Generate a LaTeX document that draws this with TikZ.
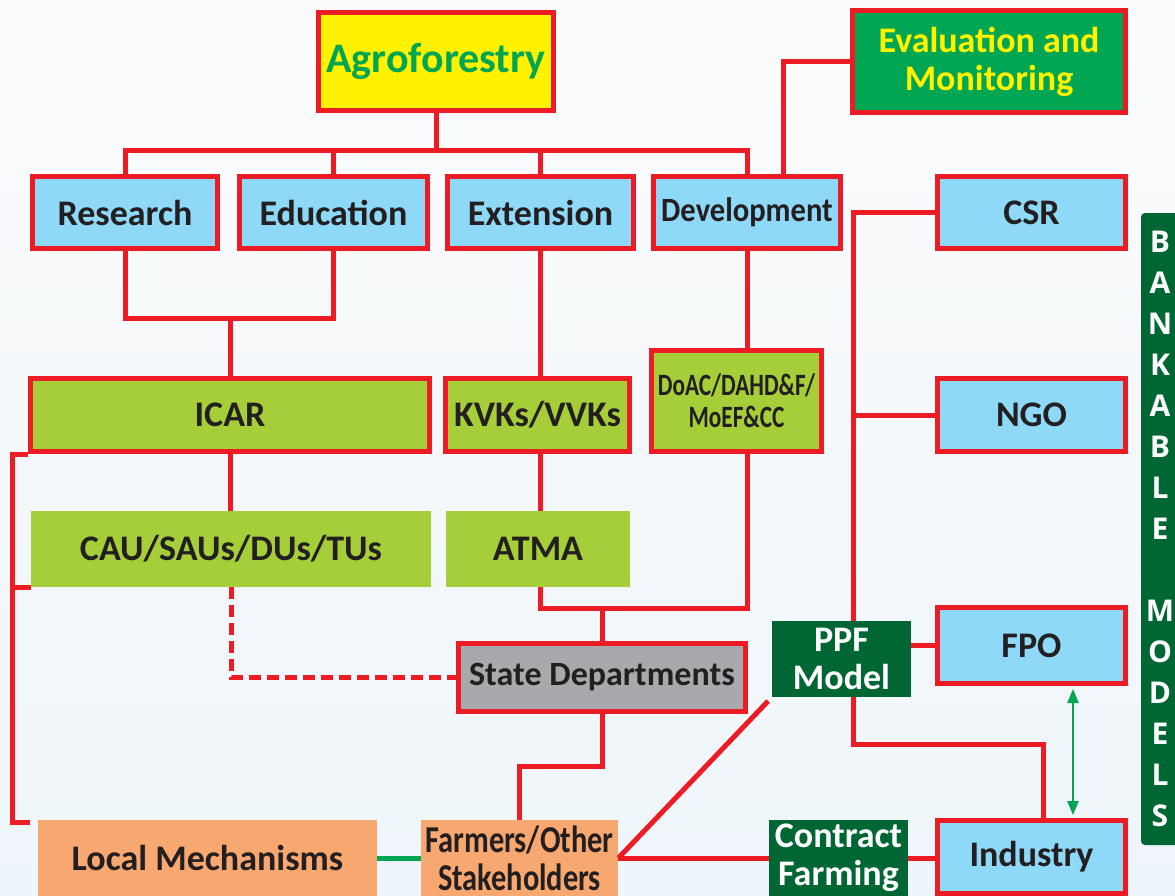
\documentclass[tikz,border=0pt]{standalone}
\usepackage{fontspec}
\setmainfont{Carlito}
\newfontfamily\barfont{Open Sans}
\usepackage{graphicx}
\usetikzlibrary{arrows.meta}

\definecolor{linered}{RGB}{237,28,36}
\definecolor{skyfill}{RGB}{142,216,248}
\definecolor{limefill}{RGB}{166,206,57}
\definecolor{agrofill}{RGB}{255,242,0}
\definecolor{agrotext}{RGB}{0,166,81}
\definecolor{evalfill}{RGB}{0,166,81}
\definecolor{darkfill}{RGB}{0,102,51}
\definecolor{orangefill}{RGB}{247,168,112}
\definecolor{grayfill}{RGB}{167,169,172}
\definecolor{textdark}{RGB}{35,31,32}
\definecolor{bgtop}{RGB}{252,252,252}
\definecolor{bgbottom}{RGB}{238,245,250}

\newcommand{\narrowtext}[2]{\scalebox{#1}[1]{#2}}

\tikzset{
  dims/.style 2 args={minimum width=#1,minimum height=#2},
  labeltext/.style={inner sep=0pt,align=center,text=textdark,font=\fontsize{18}{19}\selectfont\bfseries},
  redbox/.style={labeltext,draw=linered,line width=2.5pt},
  bluebox/.style={redbox,fill=skyfill},
  limebox/.style={redbox,fill=limefill},
  flatlime/.style={labeltext,fill=limefill},
  flatorange/.style={labeltext,fill=orangefill},
  darkbox/.style={labeltext,fill=darkfill,text=white},
  link/.style={draw=linered,line width=2.5pt},
  greenlink/.style={draw=agrotext,line width=2.5pt},
  twoway/.style={draw=agrotext,line width=1.2pt,{Triangle[length=7pt,width=5.5pt]}-{Triangle[length=7pt,width=5.5pt]},shorten <=1.5pt,shorten >=1.5pt},
}

\begin{document}
\begin{tikzpicture}[x=0.5pt,y=-0.5pt]
  \useasboundingbox (0,0) rectangle (1175,896);
  \fill[top color=bgtop,bottom color=bgbottom] (0,0) rectangle (1175,896);

  \node[redbox,fill=agrofill,text=agrotext,dims={117.5pt}{49pt},font=\fontsize{21}{22}\selectfont\bfseries] (agro) at (436,61.5) {Agroforestry};
  \node[redbox,fill=evalfill,text=agrofill,dims={136.5pt}{51pt}] (eval) at (989,61.5) {Evaluation and\\Monitoring};

  \node[bluebox,dims={92.5pt}{36pt}] (res) at (125,212.5) {Research};
  \node[bluebox,dims={94pt}{36pt}] (edu) at (333.5,212.5) {Education};
  \node[bluebox,dims={93pt}{36pt}] (ext) at (540.5,212.5) {Extension};
  \node[bluebox,dims={93.5pt}{36pt},font=\fontsize{17}{18}\selectfont\bfseries] (dev) at (747,212.5) {\narrowtext{0.9}{Development}};
  \node[bluebox,dims={94pt}{36pt}] (csr) at (1031.5,212.5) {CSR};

  \node[limebox,dims={199.5pt}{36.5pt}] (icar) at (230,415) {ICAR};
  \node[limebox,dims={92pt}{36.5pt}] (kvk) at (537.5,415) {KVKs/VVKs};
  \node[limebox,dims={85pt}{50.5pt},font=\fontsize{15.5}{16}\selectfont\bfseries] (doac) at (736.5,401) {\narrowtext{0.75}{DoAC/DAHD\&F/}\\\narrowtext{0.75}{MoEF\&CC}};
  \node[bluebox,dims={94pt}{36.5pt}] (ngo) at (1031.5,415) {NGO};

  \node[flatlime,dims={200pt}{38pt}] (cau) at (231,549) {CAU/SAUs/DUs/TUs};
  \node[flatlime,dims={92pt}{38pt}] (atma) at (538,549) {ATMA};

  \node[redbox,fill=grayfill,dims={143.5pt}{34pt},font=\fontsize{17}{18}\selectfont\bfseries] (state) at (602,677.5) {State Departments};
  \node[darkbox,dims={69.5pt}{38pt}] (ppf) at (841.5,659) {PPF\\Model};
  \node[bluebox,dims={94pt}{38pt}] (fpo) at (1031.5,645.5) {FPO};

  \node[flatorange,dims={169.5pt}{38pt}] (local) at (207.5,858) {Local Mechanisms};
  \node[flatorange,dims={98.5pt}{38pt},font=\fontsize{19}{19}\selectfont\bfseries] (farmers) at (519.5,858) {\narrowtext{0.8}{Farmers/Other}\\\narrowtext{0.8}{Stakeholders}};
  \node[darkbox,dims={69.5pt}{38pt}] (contract) at (838.5,858) {Contract\\Farming};
  \node[bluebox,dims={94pt}{36.5pt}] (industry) at (1031.5,857) {Industry};

  \node[fill=darkfill,text=white,rounded corners=2pt,inner sep=0pt,dims={19pt}{316pt},align=center,font=\barfont\fontsize{15}{20.5}\selectfont\bfseries] (bankable) at (1160,529) {B\\A\\N\\K\\A\\B\\L\\E\\[20.5pt]M\\O\\D\\E\\L\\S};

  \coordinate (topbus) at (436,150);
  \coordinate (icarbus) at (230,318);
  \coordinate (midbus) at (602,608);
  \coordinate (evalknee) at (783,62);
  \coordinate (leftbus) at (12,822);
  \coordinate (farmknee) at (519,766);
  \coordinate (rightbus) at (853,212.5);
  \coordinate (indknee) at (1043,744);
  \coordinate (arrowline) at (1073,0);

  \draw[link] (agro.south) -- (topbus);
  \draw[link] (res.north) -- (res.north |- topbus) -- (dev.north |- topbus) -- (dev.north);
  \draw[link] (edu.north) -- (edu.north |- topbus);
  \draw[link] (ext.north) -- (ext.north |- topbus);
  \draw[link] (dev.north -| evalknee) |- (eval.west);
  \draw[link] (res.south) -- (res.south |- icarbus) -- (edu.south |- icarbus) -- (edu.south);
  \draw[link] (icarbus) -- (icar.north);
  \draw[link] (ext.south) -- (ext.south |- kvk.north);
  \draw[link] (dev.south) -- (dev.south |- doac.north);
  \draw[link] (icar.south) -- (icar.south |- cau.north);
  \draw[link] (ext.south |- kvk.south) -- (ext.south |- atma.north);
  \draw[link] (ext.south |- atma.south) |- (midbus) -| (dev.south |- doac.south);
  \draw[link] (midbus) -- (state.north);
  \draw[link,dash pattern=on 6pt off 3pt] (cau.south) |- (state.west);
  \draw[link] (icar.south west) -| (leftbus) -- ++(18,0);
  \draw[link] (cau.south west) -- (cau.south west -| leftbus);
  \draw[link] (state.south) |- (farmknee) -- (farmknee |- farmers.north);
  \draw[greenlink] (local) -- (farmers);
  \draw[link] (farmers.east) -- (contract.west);
  \draw[link,shorten >=2.5pt] (farmers.east) -- (ppf.south west);
  \draw[link] (contract.east) -- (contract.east -| industry.west);
  \draw[link] (csr.west) -- (rightbus) -- (rightbus |- ppf.north);
  \draw[link] (ngo.west) -- (ngo.west -| rightbus);
  \draw[link] (ppf.east |- fpo.west) -- (fpo.west);
  \draw[link] (rightbus |- ppf.south) |- (indknee) -- (indknee |- industry.north);
  \draw[twoway] (fpo.south -| arrowline) -- (industry.north -| arrowline);
\end{tikzpicture}
\end{document}
